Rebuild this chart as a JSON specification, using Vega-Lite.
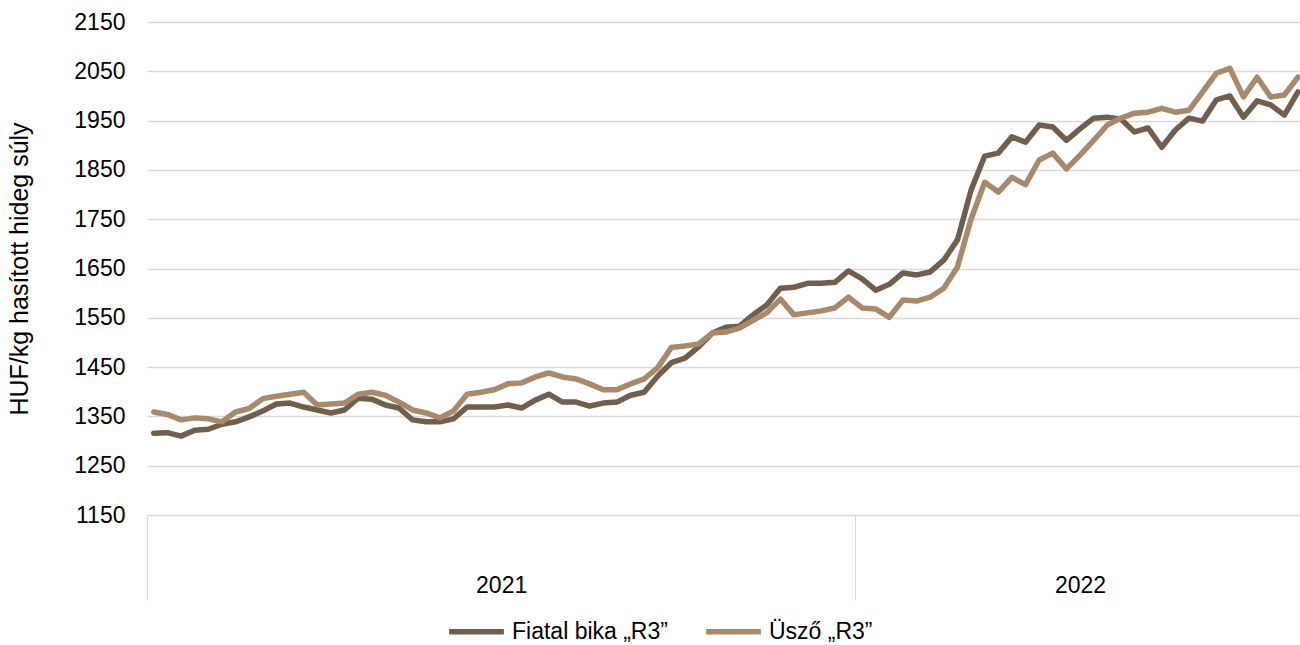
{
  "$schema": "https://vega.github.io/schema/vega-lite/v6.json",
  "autosize": {"type": "none"},
  "padding": {"left": 147, "top": 22, "right": 0, "bottom": 130},
  "width": 1153,
  "height": 493,
  "background": "white",
  "config": {"view": {"stroke": null}, "font": "Liberation Sans"},
  "data": {
    "values": [
      {"w": 0, "Fiatal bika „R3”": 1316, "Üsző „R3”": 1359},
      {"w": 1, "Fiatal bika „R3”": 1317, "Üsző „R3”": 1354},
      {"w": 2, "Fiatal bika „R3”": 1310, "Üsző „R3”": 1343},
      {"w": 3, "Fiatal bika „R3”": 1322, "Üsző „R3”": 1347},
      {"w": 4, "Fiatal bika „R3”": 1324, "Üsző „R3”": 1345},
      {"w": 5, "Fiatal bika „R3”": 1334, "Üsző „R3”": 1339},
      {"w": 6, "Fiatal bika „R3”": 1339, "Üsző „R3”": 1359},
      {"w": 7, "Fiatal bika „R3”": 1349, "Üsző „R3”": 1366},
      {"w": 8, "Fiatal bika „R3”": 1361, "Üsző „R3”": 1386},
      {"w": 9, "Fiatal bika „R3”": 1375, "Üsző „R3”": 1391},
      {"w": 10, "Fiatal bika „R3”": 1377, "Üsző „R3”": 1395},
      {"w": 11, "Fiatal bika „R3”": 1369, "Üsző „R3”": 1399},
      {"w": 12, "Fiatal bika „R3”": 1363, "Üsző „R3”": 1373},
      {"w": 13, "Fiatal bika „R3”": 1357, "Üsző „R3”": 1375},
      {"w": 14, "Fiatal bika „R3”": 1363, "Üsző „R3”": 1377},
      {"w": 15, "Fiatal bika „R3”": 1387, "Üsző „R3”": 1395},
      {"w": 16, "Fiatal bika „R3”": 1385, "Üsző „R3”": 1399},
      {"w": 17, "Fiatal bika „R3”": 1373, "Üsző „R3”": 1393},
      {"w": 18, "Fiatal bika „R3”": 1367, "Üsző „R3”": 1379},
      {"w": 19, "Fiatal bika „R3”": 1343, "Üsző „R3”": 1363},
      {"w": 20, "Fiatal bika „R3”": 1339, "Üsző „R3”": 1357},
      {"w": 21, "Fiatal bika „R3”": 1339, "Üsző „R3”": 1347},
      {"w": 22, "Fiatal bika „R3”": 1345, "Üsző „R3”": 1361},
      {"w": 23, "Fiatal bika „R3”": 1369, "Üsző „R3”": 1395},
      {"w": 24, "Fiatal bika „R3”": 1369, "Üsző „R3”": 1399},
      {"w": 25, "Fiatal bika „R3”": 1369, "Üsző „R3”": 1404},
      {"w": 26, "Fiatal bika „R3”": 1373, "Üsző „R3”": 1416},
      {"w": 27, "Fiatal bika „R3”": 1367, "Üsző „R3”": 1418},
      {"w": 28, "Fiatal bika „R3”": 1383, "Üsző „R3”": 1430},
      {"w": 29, "Fiatal bika „R3”": 1395, "Üsző „R3”": 1438},
      {"w": 30, "Fiatal bika „R3”": 1379, "Üsző „R3”": 1430},
      {"w": 31, "Fiatal bika „R3”": 1379, "Üsző „R3”": 1426},
      {"w": 32, "Fiatal bika „R3”": 1371, "Üsző „R3”": 1416},
      {"w": 33, "Fiatal bika „R3”": 1377, "Üsző „R3”": 1404},
      {"w": 34, "Fiatal bika „R3”": 1379, "Üsző „R3”": 1404},
      {"w": 35, "Fiatal bika „R3”": 1393, "Üsző „R3”": 1416},
      {"w": 36, "Fiatal bika „R3”": 1399, "Üsző „R3”": 1426},
      {"w": 37, "Fiatal bika „R3”": 1432, "Üsző „R3”": 1449},
      {"w": 38, "Fiatal bika „R3”": 1459, "Üsző „R3”": 1490},
      {"w": 39, "Fiatal bika „R3”": 1468, "Üsző „R3”": 1493},
      {"w": 40, "Fiatal bika „R3”": 1491, "Üsző „R3”": 1497},
      {"w": 41, "Fiatal bika „R3”": 1519, "Üsző „R3”": 1519},
      {"w": 42, "Fiatal bika „R3”": 1531, "Üsző „R3”": 1521},
      {"w": 43, "Fiatal bika „R3”": 1533, "Üsző „R3”": 1529},
      {"w": 44, "Fiatal bika „R3”": 1556, "Üsző „R3”": 1545},
      {"w": 45, "Fiatal bika „R3”": 1576, "Üsző „R3”": 1560},
      {"w": 46, "Fiatal bika „R3”": 1610, "Üsző „R3”": 1588},
      {"w": 47, "Fiatal bika „R3”": 1612, "Üsző „R3”": 1556},
      {"w": 48, "Fiatal bika „R3”": 1620, "Üsző „R3”": 1560},
      {"w": 49, "Fiatal bika „R3”": 1620, "Üsző „R3”": 1564},
      {"w": 50, "Fiatal bika „R3”": 1622, "Üsző „R3”": 1570},
      {"w": 51, "Fiatal bika „R3”": 1645, "Üsző „R3”": 1592},
      {"w": 52, "Fiatal bika „R3”": 1629, "Üsző „R3”": 1570},
      {"w": 53, "Fiatal bika „R3”": 1606, "Üsző „R3”": 1568},
      {"w": 54, "Fiatal bika „R3”": 1618, "Üsző „R3”": 1551},
      {"w": 55, "Fiatal bika „R3”": 1641, "Üsző „R3”": 1586},
      {"w": 56, "Fiatal bika „R3”": 1637, "Üsző „R3”": 1584},
      {"w": 57, "Fiatal bika „R3”": 1643, "Üsző „R3”": 1592},
      {"w": 58, "Fiatal bika „R3”": 1667, "Üsző „R3”": 1610},
      {"w": 59, "Fiatal bika „R3”": 1708, "Üsző „R3”": 1653},
      {"w": 60, "Fiatal bika „R3”": 1809, "Üsző „R3”": 1750},
      {"w": 61, "Fiatal bika „R3”": 1878, "Üsző „R3”": 1825},
      {"w": 62, "Fiatal bika „R3”": 1884, "Üsző „R3”": 1805},
      {"w": 63, "Fiatal bika „R3”": 1917, "Üsző „R3”": 1835},
      {"w": 64, "Fiatal bika „R3”": 1906, "Üsző „R3”": 1820},
      {"w": 65, "Fiatal bika „R3”": 1941, "Üsző „R3”": 1870},
      {"w": 66, "Fiatal bika „R3”": 1937, "Üsző „R3”": 1884},
      {"w": 67, "Fiatal bika „R3”": 1910, "Üsző „R3”": 1852},
      {"w": 68, "Fiatal bika „R3”": 1933, "Üsző „R3”": 1880},
      {"w": 69, "Fiatal bika „R3”": 1955, "Üsző „R3”": 1910},
      {"w": 70, "Fiatal bika „R3”": 1957, "Üsző „R3”": 1941},
      {"w": 71, "Fiatal bika „R3”": 1953, "Üsző „R3”": 1955},
      {"w": 72, "Fiatal bika „R3”": 1927, "Üsző „R3”": 1965},
      {"w": 73, "Fiatal bika „R3”": 1935, "Üsző „R3”": 1967},
      {"w": 74, "Fiatal bika „R3”": 1896, "Üsző „R3”": 1975},
      {"w": 75, "Fiatal bika „R3”": 1931, "Üsző „R3”": 1967},
      {"w": 76, "Fiatal bika „R3”": 1955, "Üsző „R3”": 1971},
      {"w": 77, "Fiatal bika „R3”": 1949, "Üsző „R3”": 2008},
      {"w": 78, "Fiatal bika „R3”": 1992, "Üsző „R3”": 2046},
      {"w": 79, "Fiatal bika „R3”": 2000, "Üsző „R3”": 2056},
      {"w": 80, "Fiatal bika „R3”": 1957, "Üsző „R3”": 1998},
      {"w": 81, "Fiatal bika „R3”": 1990, "Üsző „R3”": 2038},
      {"w": 82, "Fiatal bika „R3”": 1982, "Üsző „R3”": 1998},
      {"w": 83, "Fiatal bika „R3”": 1961, "Üsző „R3”": 2002},
      {"w": 84, "Fiatal bika „R3”": 2008, "Üsző „R3”": 2038}
    ]
  },
  "transform": [{"fold": ["Fiatal bika „R3”", "Üsző „R3”"], "as": ["series", "value"]}],
  "mark": {"type": "line", "strokeWidth": 5.5, "strokeJoin": "round", "strokeCap": "round"},
  "encoding": {
    "x": {
      "field": "w",
      "type": "quantitative",
      "scale": {"domain": [-0.5, 84.15], "nice": false, "zero": false},
      "axis": {
        "values": [-0.5, 25.5, 51.5, 68],
        "grid": false,
        "domain": false,
        "tickSize": 85,
        "tickWidth": 1,
        "tickColor": {"condition": {"test": "datum.value == 25.5 || datum.value == 68", "value": "transparent"}, "value": "#d9d9d9"},
        "labelExpr": "datum.value == 25.5 ? '2021' : datum.value == 68 ? '2022' : ''",
        "labelPadding": -26,
        "labelFontSize": 23,
        "labelColor": "#000000",
        "labelFlush": false,
        "labelOverlap": false,
        "title": null
      }
    },
    "y": {
      "field": "value",
      "type": "quantitative",
      "scale": {"domain": [1150, 2150], "nice": false, "zero": false},
      "axis": {
        "values": [1150, 1250, 1350, 1450, 1550, 1650, 1750, 1850, 1950, 2050, 2150],
        "format": "d",
        "grid": true,
        "gridColor": "#d9d9d9",
        "gridWidth": 1.5,
        "domain": false,
        "ticks": false,
        "labelPadding": 22,
        "labelFontSize": 23,
        "labelColor": "#000000",
        "title": "HUF/kg hasított hideg súly",
        "titleFontSize": 25,
        "titleFontWeight": "normal",
        "titleColor": "#000000",
        "titlePadding": 41
      }
    },
    "color": {
      "field": "series",
      "type": "nominal",
      "scale": {"domain": ["Fiatal bika „R3”", "Üsző „R3”"], "range": ["#715f4e", "#a8896c"]},
      "legend": {
        "orient": "none",
        "legendX": 299,
        "legendY": 579,
        "direction": "horizontal",
        "title": null,
        "symbolType": "stroke",
        "symbolStrokeWidth": 5.5,
        "symbolSize": 3000,
        "labelFontSize": 23,
        "labelColor": "#000000",
        "labelOffset": 5,
        "columnPadding": 27
      }
    }
  }
}
